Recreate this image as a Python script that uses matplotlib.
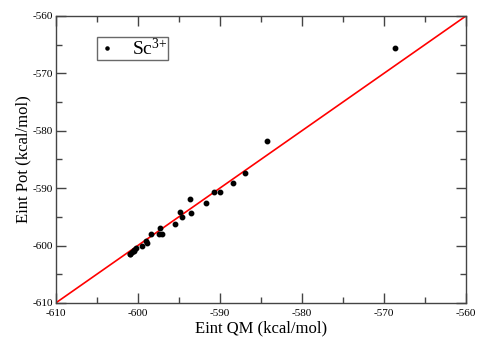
import matplotlib
matplotlib.use('Agg')
import matplotlib.pyplot as plt
from matplotlib.ticker import MultipleLocator

plt.rcParams['font.family'] = ['Liberation Serif', 'DejaVu Serif']
plt.rcParams['mathtext.fontset'] = 'custom'
plt.rcParams['mathtext.rm'] = 'Liberation Serif'
plt.rcParams['mathtext.default'] = 'regular'
plt.rcParams['axes.unicode_minus'] = False

# data (kcal/mol)
eint_qm = [-568.6, -584.3, -586.9, -588.4, -590.0, -590.7, -591.7, -593.6,
           -593.5, -594.6, -594.9, -595.4, -597.3, -597.1, -597.4, -598.4,
           -598.9, -599.0, -599.5, -600.2, -600.4, -600.5, -600.7, -600.9,
           -601.0]
eint_pot = [-565.6, -581.8, -587.4, -589.1, -590.7, -590.7, -592.5, -591.9,
            -594.3, -595.0, -594.2, -596.2, -597.0, -598.0, -597.9, -597.9,
            -599.6, -599.2, -600.0, -600.5, -600.7, -600.9, -601.1, -601.4,
            -601.5]
diag = [-610, -560]

fig = plt.figure(figsize=(4.79, 3.38), dpi=100)
ax = fig.add_axes([0.1163, 0.1036, 0.8564, 0.8491])

ax.plot(diag, diag, color='red', lw=1.2, zorder=2)
ax.plot(eint_qm, eint_pot, 'o', color='black', ms=3.2, ls='none',
        label=r'Sc$^{3{+}}$', zorder=3)

ax.set_xlim(-610, -560)
ax.set_ylim(-610, -560)
ax.xaxis.set_major_locator(MultipleLocator(10))
ax.xaxis.set_minor_locator(MultipleLocator(5))
ax.yaxis.set_major_locator(MultipleLocator(10))
ax.yaxis.set_minor_locator(MultipleLocator(5))
ax.tick_params(which='both', direction='in', top=True, right=True,
               labelsize=8, color='#444444', width=1)
ax.tick_params(axis='x', pad=4)
ax.tick_params(axis='y', pad=2)
ax.tick_params(which='major', length=7)
ax.tick_params(which='minor', length=4)
for s in ax.spines.values():
    s.set_color('#444444')
    s.set_linewidth(1)

ax.set_xlabel('Eint QM (kcal/mol)', fontsize=12, labelpad=2)
ax.set_ylabel('Eint Pot (kcal/mol)', fontsize=12, labelpad=1)

leg = ax.legend(loc='upper left', bbox_to_anchor=(0.10, 0.927),
                fontsize=14, frameon=True, fancybox=False, handlelength=1.0,
                handletextpad=0.75, borderpad=0.05, borderaxespad=0,
                markerscale=0.7)
leg.get_frame().set_edgecolor('#444444')
leg.get_frame().set_linewidth(1)

fig.savefig('out.png', dpi=100)
